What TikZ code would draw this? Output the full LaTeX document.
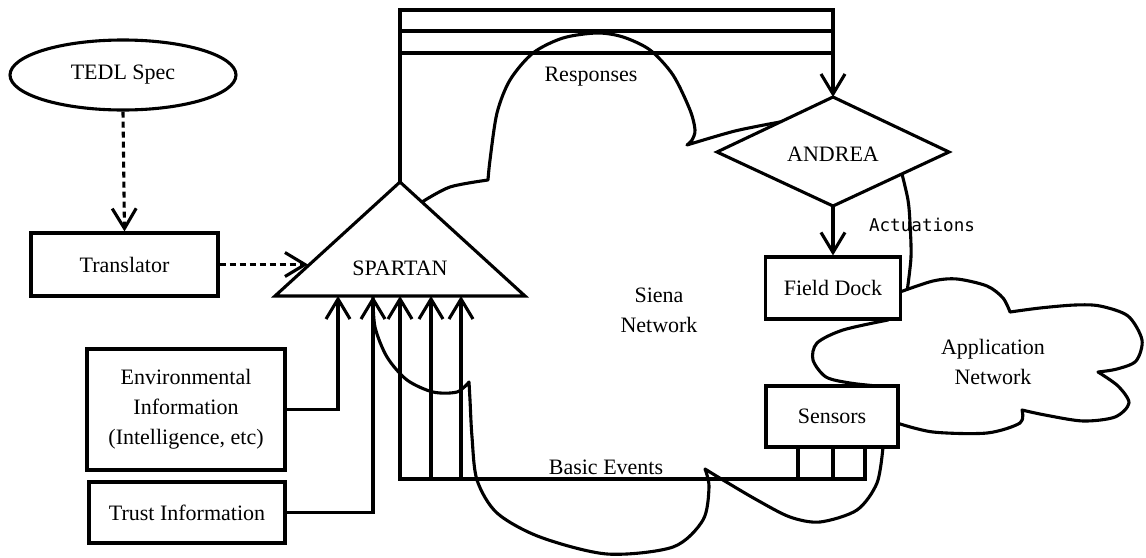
\documentclass[tikz,border=0pt]{standalone}
\usepackage{fontspec}
\setmainfont{Liberation Serif}
\newfontfamily\actfont{DejaVu Sans Mono}
\usetikzlibrary{arrows.meta,shapes.geometric,calc}
\begin{document}
\begin{tikzpicture}[x=1pt,y=-1pt,
  every node/.style={font=\fontsize{22}{30}\selectfont, inner sep=0pt, align=center},
  lw/.style={line width=3.1pt},
  box/.style={lw, draw, fill=white, rectangle},
  conn/.style={lw, -{Straight Barb[length=20pt,width=24pt]}},
  dconn/.style={conn, dash pattern=on 6pt off 4pt},
  plain/.style={lw},
  cloudline/.style={lw, line join=round}]
\useasboundingbox (0,0) rectangle (1146,557);

% Siena network cloud (partly hidden behind the nodes)
\draw[cloudline]
  plot[smooth] coordinates {(373,296) (395,245) (422,202)}
  -- plot[smooth] coordinates {(422,202) (450,187) (488,180)}
  -- plot[smooth] coordinates {(488,180) (490,160) (497,113) (510,80) (533,53) (563,38) (597,33) (623,37) (650,50) (673,75) (690,110) (695,130) (692,140) (687,145)}
  -- plot[smooth] coordinates {(687,145) (735,131) (780,122)}
  -- plot[smooth] coordinates {(780,122) (845,140) (902,174)}
  -- plot[smooth] coordinates {(902,174) (908,200) (910,223) (911,257) (907,292)}
  -- plot[smooth] coordinates {(907,292) (903,360) (886,420) (883,447)}
  -- plot[smooth] coordinates {(883,447) (877,483) (857,510) (820,522) (790,517) (757,500) (723,480) (705,469)}
  -- plot[smooth] coordinates {(705,469) (709,487) (703,520) (673,547) (607,554) (540,537) (497,513) (477,480) (472,437) (470,400) (469,382)}
  -- plot[smooth] coordinates {(469,382) (457,392) (433,392) (407,380) (387,357) (375,327) (373,296)}
  -- cycle;

% Application network cloud
\filldraw[cloudline, fill=white]
  plot[smooth] coordinates {(900,292) (933,281) (957,279) (987,286) (1003,298) (1010,312)}
  -- plot[smooth] coordinates {(1010,312) (1040,308) (1075,305) (1100,306) (1128,316) (1142,340) (1136,361) (1117,369) (1098,372)}
  -- plot[smooth] coordinates {(1098,372) (1118,386) (1129,403) (1115,417) (1083,421) (1045,415) (1022,410)}
  -- plot[smooth] coordinates {(1022,410) (1020,423) (987,433) (933,432) (897,423)}
  -- (877,388)
  -- plot[smooth] coordinates {(877,386) (850,383) (826,377) (813,360) (817,343) (843,330) (888,320)}
  -- (896,300) -- cycle;

% nodes
\node[lw, draw, fill=white, ellipse, minimum width=226pt, minimum height=70pt] (tedl) at (123,75) {TEDL Spec};
\node[box, minimum width=187pt, minimum height=63pt] (trans) at (124.5,264.5) {Translator};
\node[box, minimum width=198pt, minimum height=121pt] (env) at (186,409.5) {Environmental\\Information\\(Intelligence, etc)};
\node[box, minimum width=196pt, minimum height=61pt] (trust) at (187,512.5) {Trust Information};
\draw[lw, fill=white] (400,182) coordinate (spA) -- (525,296) -- (275,296) -- cycle;
\node (spartan) at (400,268) {SPARTAN};
\draw[lw, fill=white] (833,97) coordinate (andTop) -- (949,152) -- (833,206) coordinate (andBot) -- (717,152) -- cycle;
\node (andrea) at (833,154) {ANDREA};
\node[box, minimum width=135pt, minimum height=62pt] (fd) at (833,288) {Field Dock};
\node[box, minimum width=132pt, minimum height=61pt] (sens) at (832,416.5) {Sensors};

% labels
\node (resp) at (591,77) {Responses};
\node (basic) at (606,467) {Basic Events};
\node (siena) at (659,310) {Siena\\Network};
\node (appnet) at (993,362) {Application\\Network};
\node[font=\actfont\fontsize{17.6}{20}\selectfont] (act) at (922,225) {Actuations};

% coordinates
\coordinate (tl) at (308,0);
\coordinate (b1) at (338,296);
\coordinate (b2) at (373,296);
\coordinate (b3) at (400,296);
\coordinate (b4) at (431,296);
\coordinate (b5) at (461,296);
\coordinate (top1) at (0,10);
\coordinate (top2) at (0,31);
\coordinate (top3) at (0,53);
\coordinate (bus) at (0,479);
\coordinate (s1) at (798,447);
\coordinate (s2) at (833,447);
\coordinate (s3) at (865,447);

% connectors
\draw[dconn] (tedl.south) -- (trans.north);
\draw[dconn] (trans.east) -- (trans.east -| tl);
\draw[conn] (env.east) -| (b1);
\draw[conn] (trust.east) -| (b2);
\draw[conn] (s3) |- (b3 |- bus) -- (b3);
\draw[plain] (s1) -- (s1 |- bus);
\draw[plain] (s2) -- (s2 |- bus);
\draw[conn] (b4 |- bus) -- (b4);
\draw[conn] (b5 |- bus) -- (b5);
\draw[conn] (spA) |- (andTop |- top1) -- (andTop);
\draw[plain] (spA |- top2) -- (andTop |- top2);
\draw[plain] (spA |- top3) -- (andTop |- top3);
\draw[conn] (andBot) -- (fd.north);
\end{tikzpicture}
\end{document}
